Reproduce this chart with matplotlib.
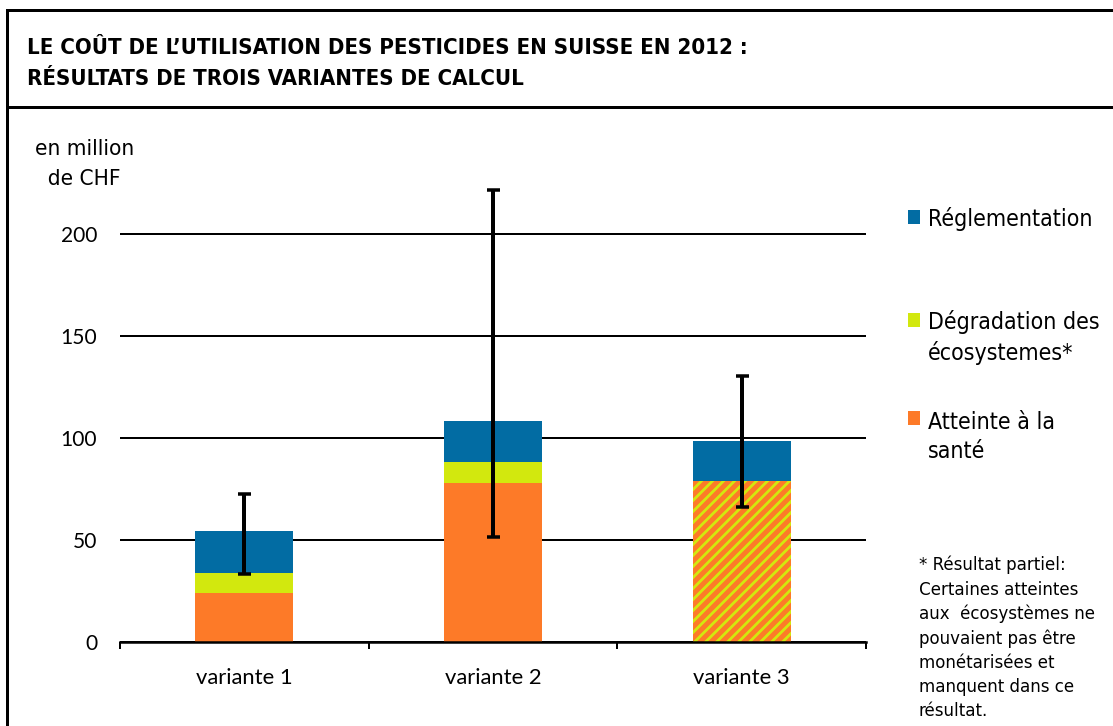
import matplotlib
matplotlib.use("Agg")
import matplotlib.pyplot as plt
from matplotlib import font_manager as fm
from matplotlib.lines import Line2D
from matplotlib.patches import Rectangle
import numpy as np

# ---------------- data ----------------
categories = ["variante 1", "variante 2", "variante 3"]
sante = [24.0, 77.8, 0.0]          # Atteinte à la santé
ecosys = [9.8, 10.2, 0.0]          # Dégradation des écosystèmes
combined = [0.0, 0.0, 78.8]        # variante 3: santé + écosystèmes (hachuré)
reglement = [20.4, 20.4, 19.6]     # Réglementation
err_low = [33.0, 51.4, 66.2]
err_high = [72.2, 221.6, 130.3]
yticks = [0, 50, 100, 150, 200]
legend_labels = ["Réglementation", "Dégradation des\nécosystemes*", "Atteinte à la\nsanté"]

title = "LE COÛT DE L’UTILISATION DES PESTICIDES EN SUISSE EN 2012 :\nRÉSULTATS DE TROIS VARIANTES DE CALCUL"
unit_label = "en million\n  de CHF"
footnote = ("* Résultat partiel:\nCertaines atteintes\naux  écosystèmes ne\n"
            "pouvaient pas être\nmonétarisées et\nmanquent dans ce\nrésultat.")

# ---------------- style ----------------
BLUE = "#026ca3"
GREEN = "#d2e80e"
ORANGE = "#fd7a28"

DPI = 132
W, H = 1113, 726


def pt(px):
    return px * 72.0 / DPI


def fx(px):
    return px / W


def fy(px):  # px from top
    return 1 - px / H


names = {f.name for f in fm.fontManager.ttflist}
if "Liberation Sans Narrow" in names:
    NARROW = dict(family="Liberation Sans Narrow")
else:
    NARROW = dict(family="DejaVu Sans", stretch="condensed")
TICKFONT = "Lato" if "Lato" in names else "DejaVu Sans"

plt.rcParams["hatch.linewidth"] = pt(5.0)
plt.rcParams["hatch.color"] = ORANGE

fig = plt.figure(figsize=(W / DPI, H / DPI), dpi=DPI)
fig.patch.set_facecolor("white")

# axes placement (pixels)
ax_left, ax_right = 120, 866
ax_bottom = 641.5
ymax = 225
px_per_unit = 2.0375
ax_top = ax_bottom - ymax * px_per_unit
ax = fig.add_axes([fx(ax_left), fy(ax_bottom), fx(ax_right - ax_left), (ax_bottom - ax_top) / H])

x = np.arange(len(categories))
bw = 0.394

ax.set_ylim(0, ymax)
ax.set_xlim(-0.5, 2.5)
ax.set_yticks(yticks)
ax.yaxis.grid(True, color="black", linewidth=pt(2.0))
ax.set_axisbelow(True)

ax.bar(x, sante, bw, color=ORANGE, linewidth=0, zorder=2)
ax.bar(x, ecosys, bw, bottom=sante, color=GREEN, linewidth=0, zorder=2)
ax.bar(x, combined, bw, bottom=np.array(sante) + np.array(ecosys),
       color=GREEN, hatch="////", linewidth=0, zorder=2)
base3 = np.array(sante) + np.array(ecosys) + np.array(combined)
ax.bar(x, reglement, bw, bottom=base3, color=BLUE, linewidth=0, zorder=2)

# error bars (low/high range)
totals = base3 + np.array(reglement)
yerr = np.array([totals - np.array(err_low), np.array(err_high) - totals])
ax.errorbar(x, totals, yerr=yerr, fmt="none", ecolor="black",
            elinewidth=pt(4.0), capsize=pt(6.5), capthick=pt(3.5), zorder=3)

for s in ["left", "right", "top"]:
    ax.spines[s].set_visible(False)
ax.spines["bottom"].set_linewidth(pt(2.5))
ax.spines["bottom"].set_zorder(4)

ax.tick_params(axis="y", length=0, pad=pt(23), labelsize=pt(21))
for lab in ax.get_yticklabels():
    lab.set_fontfamily(TICKFONT)

ax.set_xticks([-0.5, 0.5, 1.5, 2.5])
ax.set_xticklabels([])
ax.tick_params(axis="x", which="major", direction="out", length=pt(7), width=pt(2))
ax.set_xticks(x, minor=True)
ax.set_xticklabels(categories, minor=True, fontfamily=TICKFONT, fontsize=pt(22))
ax.tick_params(axis="x", which="minor", length=0, pad=pt(26))

# ---------------- frame ----------------
lw_frame = pt(3)
fig.add_artist(Line2D([fx(7), fx(7)], [fy(10), 0], color="black", lw=lw_frame))
fig.add_artist(Line2D([fx(7), 1], [fy(10), fy(10)], color="black", lw=lw_frame))
fig.add_artist(Line2D([fx(7), 1], [fy(107), fy(107)], color="black", lw=lw_frame))

# ---------------- texts ----------------
fig.text(fx(27), fy(85), title, ha="left", va="baseline", fontsize=pt(22.2),
         fontweight="bold", linespacing=1.68, **NARROW)
fig.text(fx(35), fy(185), unit_label, ha="left", va="baseline", fontsize=pt(22.5),
         linespacing=1.6, **NARROW)

# legend
leg_items = [(BLUE, 210, legend_labels[0]), (GREEN, 313, legend_labels[1]), (ORANGE, 411, legend_labels[2])]
for color, ytop, label in leg_items:
    ty = ytop - 3 if color != ORANGE else ytop
    fig.add_artist(Rectangle((fx(908), fy(ytop + 14)), fx(12), 14 / H, color=color,
                             transform=fig.transFigure, linewidth=0))
    fig.text(fx(928), fy(ty), label, ha="left", va="top", fontsize=pt(23),
             linespacing=1.36, **NARROW)

fig.text(fx(919), fy(556), footnote, ha="left", va="top", fontsize=pt(18.5),
         linespacing=1.43, **NARROW)

fig.savefig("out.png", dpi=DPI, facecolor="white")
